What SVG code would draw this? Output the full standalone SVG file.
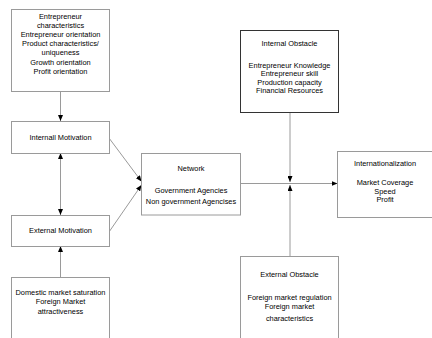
<svg xmlns="http://www.w3.org/2000/svg" width="432" height="338" viewBox="0 0 432 338">
<defs>
<style>
.box{fill:#fff;stroke:#9a9a9a;stroke-width:1}
.dark{stroke:#333}
text{font-family:"Liberation Sans",Arial,sans-serif;font-size:7.4px;fill:#000;text-anchor:middle}
.c{stroke:#9a9a9a;stroke-width:1;fill:none}
</style>
<marker id="ah" viewBox="0 0 6 5" markerWidth="6" markerHeight="5" refX="6" refY="2.5" orient="auto-start-reverse" markerUnits="userSpaceOnUse">
<path d="M0,0 L6,2.5 L0,5 z" fill="#000"/>
</marker>
</defs>
<rect width="432" height="338" fill="#fff"/>
<g id="connectors">
<line class="c" x1="60.5" y1="91" x2="60.5" y2="121" marker-end="url(#ah)"/>
<line class="c" x1="60.5" y1="153" x2="60.5" y2="215" marker-start="url(#ah)" marker-end="url(#ah)"/>
<line class="c" x1="60.5" y1="277" x2="60.5" y2="246" marker-end="url(#ah)"/>
<line class="c" x1="109" y1="138" x2="141.5" y2="181.5" marker-end="url(#ah)"/>
<line class="c" x1="109" y1="232" x2="141.5" y2="185" marker-end="url(#ah)"/>
<line class="c" x1="240.5" y1="183.5" x2="337.5" y2="183.5" marker-end="url(#ah)"/>
<line class="c" x1="290" y1="112.5" x2="290" y2="182" marker-end="url(#ah)"/>
<line class="c" x1="290" y1="256" x2="290" y2="185" marker-end="url(#ah)"/>
</g>
<g id="entrepreneur">
<rect class="box" x="11.5" y="9.5" width="98" height="82"/>
<text x="60.5" y="18.8">Entrepreneur</text>
<text x="60.5" y="28.1">characteristics</text>
<text x="60.5" y="37.2">Entrepreneur orientation</text>
<text x="60.5" y="46.2">Product characteristics/</text>
<text x="60.5" y="55.3">uniqueness</text>
<text x="60.5" y="64.6">Growth orientation</text>
<text x="60.5" y="74.2">Profit orientation</text>
</g>
<g id="internal-motivation">
<rect class="box" x="11.5" y="121.5" width="98" height="32"/>
<text x="60.5" y="139.8">Internall Motivation</text>
</g>
<g id="external-motivation">
<rect class="box" x="11.5" y="215.5" width="98" height="31"/>
<text x="60.5" y="232.8">External Motivation</text>
</g>
<g id="domestic">
<rect class="box" x="11.5" y="277.5" width="98" height="70"/>
<text x="60.5" y="294.5">Domestic market saturation</text>
<text x="60.5" y="304.3">Foreign Market</text>
<text x="60.5" y="314.3">attractiveness</text>
</g>
<g id="network">
<rect class="box" x="141.5" y="153.5" width="99" height="61.5"/>
<text x="191" y="171">Network</text>
<text x="191" y="192.6">Government Agencies</text>
<text x="191" y="204.2">Non government Agencises</text>
</g>
<g id="internal-obstacle">
<rect class="box dark" x="240.5" y="30.5" width="98" height="82"/>
<text x="289.5" y="46">Internal Obstacle</text>
<text x="289.5" y="67.8">Entrepreneur Knowledge</text>
<text x="289.5" y="76.2">Entrepreneur skill</text>
<text x="289.5" y="84.6">Production capacity</text>
<text x="289.5" y="93">Financial Resources</text>
</g>
<g id="external-obstacle">
<rect class="box" x="240.5" y="256.5" width="98" height="90"/>
<text x="289.5" y="277">External Obstacle</text>
<text x="289.5" y="300">Foreign market regulation</text>
<text x="289.5" y="309.4">Foreign market</text>
<text x="289.5" y="320.8">characteristics</text>
</g>
<g id="internationalization">
<rect class="box" x="337.5" y="151.5" width="100" height="66"/>
<text x="385" y="166">Internationalization</text>
<text x="385" y="185.4">Market Coverage</text>
<text x="385" y="193.7">Speed</text>
<text x="385" y="202">Profit</text>
</g>
</svg>
